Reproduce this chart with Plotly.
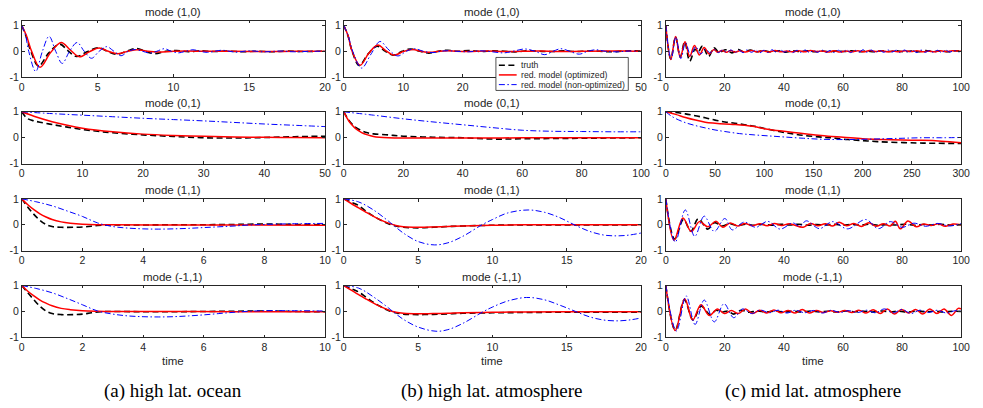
import plotly.graph_objects as go

# ---------------------------------------------------------------------------
# Autocorrelation of the leading modes: truth vs. reduced models
# Each series is a list of (time, value) samples.
# ---------------------------------------------------------------------------

# (a) high lat. ocean
A1_TRUTH = [(0, 1), (0.3, 0.55), (0.6, 0.0), (1.1, -0.57), (1.8, -0.05), (2.5, 0.28), (3.05, 0.02), (3.6, -0.2),
            (4.3, -0.02), (5.05, 0.14), (5.65, 0.0), (6.25, -0.12), (6.9, 0.0), (7.55, 0.11), (8.15, 0.0),
            (8.75, -0.09), (9.5, 0.0), (10.2, 0.03), (11.0, -0.02), (11.8, 0.02), (12.6, -0.01), (13.5, 0.01),
            (14.5, -0.02), (15.5, 0.0), (16.5, -0.02), (17.5, 0.01), (18.5, -0.01), (19.5, 0.0), (20, 0.0)]
A1_OPT = [(0, 1), (0.3, 0.62), (0.65, 0.0), (1.2, -0.62), (1.9, -0.05), (2.6, 0.34), (3.2, 0.05), (3.8, -0.21),
          (4.45, -0.02), (5.1, 0.13), (5.7, 0.0), (6.35, -0.09), (7.0, 0.0), (7.6, 0.06), (8.3, 0.0), (9.0, -0.03),
          (10, 0.0), (11, 0.01), (12, 0.0), (14, 0.0), (16, -0.01), (18, 0.0), (20, 0.0)]
A1_NON = [(0, 1), (0.25, 0.62), (0.46, 0.0), (0.92, -0.78), (1.36, 0.0), (1.8, 0.58), (2.24, 0.0), (2.67, -0.47),
          (3.15, 0.0), (3.65, 0.34), (4.12, 0.0), (4.6, -0.27), (5.1, 0.0), (5.6, 0.18), (6.08, 0.0), (6.55, -0.17),
          (7.02, 0.0), (7.5, 0.07), (7.98, 0.0), (8.45, -0.07), (8.9, 0.0), (9.4, 0.1), (9.87, 0.0), (10.35, -0.06),
          (10.8, 0.0), (11.3, 0.06), (11.75, 0.0), (12.25, -0.04), (13.2, 0.04), (14.1, -0.03), (15.0, 0.02),
          (16, -0.02), (17, 0.01), (18, -0.02), (19, 0.0), (20, 0.0)]

A2_TRUTH = [(0, 1), (0.5, 0.84), (1, 0.73), (2, 0.65), (3, 0.6), (5, 0.51), (7.5, 0.41), (10, 0.32), (12.5, 0.25),
            (15, 0.19), (20, 0.11), (25, 0.05), (30, 0.0), (35, -0.01), (40, 0.01), (45, 0.04), (50, 0.06)]
A2_OPT = [(0, 1), (2, 0.83), (5, 0.62), (7.5, 0.48), (10, 0.37), (15, 0.23), (20, 0.14), (25, 0.09), (30, 0.06),
          (35, 0.03), (40, 0.02), (45, 0.01), (50, 0.0)]
A2_NON = [(0, 1), (5, 0.93), (10, 0.87), (15, 0.81), (20, 0.75), (25, 0.7), (30, 0.65), (35, 0.59), (40, 0.53),
          (45, 0.48), (50, 0.43)]

A3_TRUTH = [(0, 1), (0.2, 0.68), (0.4, 0.4), (0.6, 0.17), (0.8, 0.01), (1.0, -0.07), (1.3, -0.1), (1.7, -0.1),
            (2.1, -0.08), (2.5, -0.03), (3.0, -0.01), (4.0, -0.01), (5.0, 0.0), (6.0, 0.0), (7.0, 0.01), (7.5, 0.02),
            (8.0, 0.03), (8.5, 0.02), (9.0, 0.01), (10, 0.0)]
A3_OPT = [(0, 1), (0.2, 0.77), (0.4, 0.58), (0.6, 0.42), (0.8, 0.3), (1.0, 0.2), (1.3, 0.11), (1.6, 0.06), (2.0, 0.02),
          (2.5, 0.0), (3, 0.0), (5, -0.01), (7, -0.01), (10, -0.02)]
A3_NON = [(0, 1), (0.5, 0.88), (1, 0.73), (1.5, 0.53), (2, 0.32), (2.5, 0.07), (3, -0.07), (3.5, -0.13), (4, -0.16),
          (4.5, -0.17), (5, -0.16), (5.5, -0.14), (6, -0.11), (6.5, -0.08), (7, -0.05), (7.5, -0.01), (8, 0.01),
          (9, 0.04), (10, 0.05)]

A4_TRUTH = [(0, 1), (0.2, 0.72), (0.4, 0.45), (0.6, 0.2), (0.8, 0.02), (1.0, -0.08), (1.3, -0.12), (1.7, -0.12),
            (2.0, -0.1), (2.3, -0.05), (2.6, -0.01), (3.0, 0.0), (4.0, -0.01), (5.0, -0.01), (6.0, 0.0), (7.0, 0.01),
            (8.0, 0.02), (9.0, 0.0), (10, -0.01)]
A4_OPT = [(0, 1), (0.2, 0.78), (0.4, 0.6), (0.6, 0.44), (0.8, 0.32), (1.0, 0.22), (1.3, 0.12), (1.6, 0.07), (2.0, 0.03),
          (2.5, 0.01), (3, 0.0), (5, 0.0), (7, -0.01), (10, -0.01)]
A4_NON = [(0, 1), (0.5, 0.88), (1, 0.72), (1.5, 0.5), (2, 0.26), (2.5, 0.02), (3, -0.1), (3.5, -0.17), (4, -0.2),
          (4.5, -0.21), (5, -0.2), (5.5, -0.17), (6, -0.13), (6.5, -0.08), (7, -0.03), (7.5, 0.01), (8, 0.03),
          (9, 0.03), (10, 0.02)]

# (b) high lat. atmosphere
B1_TRUTH = [(0, 1), (0.7, 0.6), (1.4, 0.0), (2.6, -0.55), (4.1, -0.1), (5.6, 0.2), (7.0, 0.0), (8.3, -0.15),
            (9.8, 0.0), (11.2, 0.09), (12.8, 0.0), (14.3, -0.07), (15.9, 0.0), (17.5, 0.04), (19, 0.0), (21, 0.03),
            (23, -0.01), (25, 0.02), (27, 0.0), (29, -0.02), (31, 0.02), (33, 0.0), (35, -0.01), (37, 0.02),
            (39, -0.01), (41, 0.01), (43, 0.0), (45, -0.02), (47, 0.01), (49, 0.02), (50, 0.01)]
B1_OPT = [(0, 1), (0.7, 0.62), (1.4, 0.0), (2.75, -0.54), (4.2, -0.08), (5.7, 0.24), (7.1, 0.02), (8.5, -0.15),
          (10.0, -0.01), (11.6, 0.07), (13.0, 0.0), (14.5, -0.04), (16, 0.0), (17.5, 0.02), (19, 0.0), (21, -0.01),
          (24, 0.01), (27, -0.01), (30, 0.0), (33, 0.01), (36, -0.01), (40, 0.0), (44, 0.01), (47, 0.01), (50, 0.0)]
B1_NON = [(0, 1), (0.75, 0.6), (1.5, 0.0), (3.0, -0.65), (4.6, -0.1), (6.1, 0.38), (7.6, 0.05), (9.1, -0.18),
          (10.5, 0.0), (11.9, 0.1), (13.4, 0.0), (15, -0.05), (17, 0.02), (19, 0.0), (21, -0.02), (23, 0.02),
          (25, -0.02), (27, -0.06), (28.8, 0.02), (30.5, 0.09), (32.2, 0.0), (33.8, -0.13), (35.2, 0.0), (36.5, 0.1),
          (38, 0.0), (39.6, -0.11), (41, 0.0), (42.4, 0.06), (44, 0.0), (46, -0.02), (48, 0.01), (50, -0.01)]

B2_TRUTH = [(0, 1), (1, 0.8), (2, 0.63), (3, 0.5), (4, 0.4), (6, 0.27), (8, 0.19), (10, 0.15), (15, 0.11), (20, 0.06),
            (30, 0.02), (40, 0.0), (50, -0.05), (60, -0.04), (70, -0.03), (80, -0.02), (90, -0.01), (100, 0.0)]
B2_OPT = [(0, 1), (1, 0.78), (2, 0.6), (3, 0.46), (4, 0.35), (6, 0.2), (8, 0.11), (10, 0.05), (12, 0.02), (15, 0.0),
          (20, -0.01), (30, -0.01), (40, -0.01), (50, -0.01), (60, 0.0), (80, 0.0), (100, 0.0)]
B2_NON = [(0, 1), (10, 0.87), (20, 0.73), (30, 0.61), (40, 0.5), (50, 0.39), (60, 0.29), (70, 0.25), (80, 0.24),
          (90, 0.23), (100, 0.23)]

B3_TRUTH = [(0, 1), (0.5, 0.87), (1, 0.74), (1.5, 0.52), (2, 0.33), (2.5, 0.17), (3, 0.04), (3.5, -0.05), (4, -0.1),
            (5, -0.12), (6, -0.1), (7, -0.07), (8, -0.05), (10, -0.02), (12, -0.01), (14, -0.01), (16, -0.01),
            (18, -0.01), (20, -0.01)]
B3_OPT = [(0, 1), (0.5, 0.82), (1, 0.65), (1.5, 0.48), (2, 0.32), (2.5, 0.18), (3, 0.06), (3.5, -0.03), (4, -0.08),
          (5, -0.1), (6, -0.09), (7, -0.07), (8, -0.05), (10, -0.02), (12, 0.0), (15, 0.0), (20, 0.0)]
B3_NON = [(0, 1), (1, 0.88), (2, 0.57), (3, 0.14), (3.3, 0.0), (4, -0.32), (5, -0.65), (6.1, -0.78), (7, -0.7),
          (8, -0.45), (9.3, 0.0), (10, 0.2), (11, 0.45), (12.4, 0.57), (13.5, 0.48), (14.5, 0.28), (15.5, 0.0),
          (16.5, -0.25), (17.5, -0.4), (18.4, -0.43), (19.2, -0.4), (20, -0.32)]

B4_TRUTH = [(0, 1), (0.5, 0.88), (1, 0.75), (1.5, 0.55), (2, 0.35), (2.5, 0.18), (3, 0.04), (3.5, -0.05), (4, -0.1),
            (5, -0.12), (6, -0.11), (7, -0.09), (8, -0.07), (10, -0.05), (12, -0.04), (14, -0.03), (16, -0.03),
            (18, -0.03), (20, -0.03)]
B4_OPT = [(0, 1), (0.5, 0.82), (1, 0.65), (1.5, 0.48), (2, 0.32), (2.5, 0.18), (3, 0.06), (3.5, -0.03), (4, -0.07),
          (5, -0.09), (6, -0.08), (7, -0.07), (8, -0.05), (10, -0.03), (12, -0.02), (15, -0.01), (20, -0.01)]
B4_NON = [(0, 1), (1, 0.9), (2, 0.56), (3, 0.14), (3.3, 0.0), (4, -0.3), (5, -0.6), (6.2, -0.76), (7, -0.7),
          (8, -0.46), (9.4, 0.0), (10, 0.17), (11, 0.4), (12.3, 0.54), (13.5, 0.45), (14.5, 0.25), (15.6, 0.0),
          (16.5, -0.2), (17.5, -0.33), (18.5, -0.36), (19.3, -0.32), (20, -0.25)]

# (c) mid lat. atmosphere
C1_TRUTH = [(0, 1), (1.7, -0.3), (3.3, 0.55), (4.9, -0.22), (6.4, 0.37), (8.1, -0.38), (9.9, 0.08), (10.9, -0.04),
            (12.4, 0.2), (14.5, -0.2), (16.3, 0.14), (18, -0.04), (20.3, 0.06), (22.4, -0.06), (24.6, 0.07),
            (26.6, -0.04), (28.6, 0.05), (30.6, -0.02), (33, 0.03), (35.5, -0.02), (38, 0.02), (40.5, -0.03),
            (43, 0.02), (45.5, -0.01), (48, 0.02), (50.5, -0.02), (53, 0.01), (55.5, -0.02), (58, 0.02),
            (60.5, -0.01), (63, 0.02), (65.5, -0.02), (68, 0.01), (70.5, -0.02), (73, 0.02), (75.5, -0.01),
            (78, 0.02), (80.5, -0.02), (83, 0.01), (85.5, -0.02), (88, 0.03), (90.5, -0.01), (93, 0.02),
            (95.5, -0.02), (98, 0.02), (100, 0.0)]
C1_OPT = [(0, 1), (1.7, -0.32), (3.3, 0.57), (4.9, -0.24), (6.5, 0.37), (8.1, -0.2), (9.7, 0.22), (11.4, -0.14),
          (13, 0.15), (14.7, -0.1), (16.3, 0.07), (17.5, -0.04), (19, 0.03), (20.5, -0.04), (22, 0.03), (23.5, -0.03),
          (25, 0.02), (27, -0.03), (29, 0.03), (31, -0.02), (33, 0.02), (35, -0.03), (37, 0.03), (39, -0.02),
          (41, 0.01), (43, -0.02), (45, 0.02), (47, -0.02), (49, 0.03), (51, -0.01), (53, 0.01), (55, -0.03),
          (57, 0.02), (59, -0.03), (61, 0.01), (63, -0.02), (65, 0.02), (67, -0.02), (69, 0.03), (71, -0.01),
          (73, 0.02), (75, -0.02), (77, 0.01), (79, -0.02), (81, 0.02), (83, -0.01), (85, 0.02), (87, -0.02),
          (89, 0.01), (91, -0.02), (93, 0.02), (95, -0.01), (97, 0.02), (100, 0.0)]
C1_NON = [(0, 1), (1.8, -0.3), (3.4, 0.55), (5.1, -0.28), (6.7, 0.33), (8.4, -0.15), (10.1, 0.18), (11.8, -0.1),
          (13.5, 0.08), (15, -0.06), (16.4, 0.06), (17.8, -0.05), (19.2, 0.05), (20.6, -0.04), (22, 0.05),
          (23.4, -0.05), (24.8, 0.04), (26.2, -0.05), (27.6, 0.06), (29, -0.04), (30.4, 0.05), (31.8, -0.06),
          (33.2, 0.04), (34.6, -0.05), (36, 0.06), (37.4, -0.04), (38.8, 0.05), (40.2, -0.03), (41.6, 0.04),
          (43, -0.05), (44.4, 0.04), (45.8, -0.04), (47.2, 0.05), (48.6, -0.05), (50, 0.03), (51.4, -0.04),
          (52.8, 0.05), (54.2, -0.04), (55.6, 0.03), (57, -0.05), (58.4, 0.04), (59.8, -0.04), (61.2, 0.05),
          (62.6, -0.05), (64, 0.04), (65.4, -0.03), (66.8, 0.06), (68.2, -0.04), (69.6, 0.05), (71, -0.05),
          (72.4, 0.04), (73.8, -0.04), (75.2, 0.05), (76.6, -0.03), (78, 0.04), (79.4, -0.05), (80.8, 0.05),
          (82.2, -0.04), (83.6, 0.04), (85, -0.05), (86.4, 0.05), (87.8, -0.04), (89.2, 0.03), (90.6, -0.04),
          (92, 0.04), (93.4, -0.05), (94.8, 0.04), (96.2, -0.03), (97.6, 0.03), (99, -0.02), (100, 0.0)]

C2_TRUTH = [(0, 1), (10, 0.97), (20, 0.92), (30, 0.85), (40, 0.77), (50, 0.68), (60, 0.61), (70, 0.56), (80, 0.5),
            (90, 0.44), (100, 0.36), (115, 0.24), (130, 0.14), (145, 0.07), (160, 0.02), (170, -0.01), (185, -0.07),
            (200, -0.11), (215, -0.15), (235, -0.18), (255, -0.2), (270, -0.21), (300, -0.22)]
C2_OPT = [(0, 1), (10, 0.9), (20, 0.78), (30, 0.68), (40, 0.6), (50, 0.56), (60, 0.53), (70, 0.51), (80, 0.48),
          (90, 0.43), (100, 0.35), (110, 0.29), (120, 0.25), (135, 0.18), (150, 0.12), (165, 0.06), (180, 0.02),
          (200, -0.04), (220, -0.07), (240, -0.09), (260, -0.1), (280, -0.13), (300, -0.19)]
C2_NON = [(0, 1), (5, 0.85), (10, 0.74), (20, 0.58), (30, 0.47), (40, 0.38), (50, 0.3), (60, 0.24), (75, 0.16),
          (90, 0.11), (105, 0.07), (120, 0.03), (140, -0.02), (160, -0.06), (180, -0.07), (200, -0.06), (220, -0.04),
          (240, -0.02), (260, 0.0), (280, 0.0), (300, 0.01)]

C3_TRUTH = [(0, 1), (3.0, -0.55), (6.0, 0.2), (8.5, -0.25), (11, 0.23), (14.2, -0.17), (16.5, 0.08), (19, -0.05),
            (21.5, 0.04), (24, -0.03), (27, 0.02), (30, -0.02), (33, 0.02), (36, -0.02), (39, 0.02), (42, -0.01),
            (45, 0.02), (48, -0.02), (51, 0.01), (54, -0.01), (57, 0.02), (60, -0.02), (63, 0.01), (66, -0.01),
            (69, 0.02), (72, -0.02), (75, 0.01), (78, -0.01), (81, 0.02), (84, -0.02), (87, 0.01), (90, -0.01),
            (93, 0.02), (96, -0.01), (100, 0.0)]
C3_OPT = [(0, 1), (2.8, -0.6), (5.8, 0.26), (8.6, -0.26), (11.4, 0.12), (14.2, -0.08), (17, 0.13), (19.3, -0.1),
          (21.8, 0.07), (24.3, -0.05), (26.8, 0.05), (29.3, -0.04), (31.8, 0.04), (34.3, -0.04), (36.8, 0.05),
          (39.3, -0.03), (41.8, 0.04), (46.5, -0.1), (49, 0.05), (51.5, -0.04), (54, 0.04), (56.5, -0.05),
          (58.7, 0.1), (61.2, -0.04), (63.7, 0.05), (66.2, -0.07), (68.7, 0.08), (71.2, -0.06), (73.7, 0.04),
          (76.0, -0.05), (77.7, 0.13), (79.4, -0.16), (82.0, 0.14), (84.8, -0.08), (87.3, 0.03), (89.8, -0.03),
          (92.3, 0.04), (94.6, -0.06), (97.2, 0.03), (100, 0.0)]
C3_NON = [(0, 1), (3.2, -0.67), (6.6, 0.57), (9.8, -0.45), (13, 0.33), (16.4, -0.26), (20, 0.24), (22.5, -0.2),
          (26.5, 0.1), (30.5, -0.1), (34.5, 0.13), (38.7, -0.17), (43, 0.07), (45.3, -0.06), (47.6, 0.15),
          (52, -0.15), (56.5, 0.12), (61.5, -0.16), (67.7, 0.2), (72, -0.15), (76, 0.12), (80, -0.1), (84, 0.06),
          (88, -0.06), (92, 0.05), (96, -0.05), (100, 0.05)]

C4_TRUTH = [(0, 1), (3.2, -0.72), (6.3, 0.45), (9.2, -0.32), (12, 0.2), (15, -0.12), (17, 0.05), (19, -0.03),
            (21, 0.02), (23, -0.1), (25.5, 0.05), (28, -0.03), (31, 0.02), (34, -0.02), (37, 0.02), (40, -0.02),
            (43, 0.01), (46, -0.02), (49, 0.02), (52, -0.01), (55, 0.01), (58, -0.02), (61, 0.02), (64, -0.01),
            (67, 0.01), (70, -0.02), (73, 0.02), (76, -0.01), (79, 0.01), (82, -0.02), (85, 0.02), (88, -0.01),
            (91, 0.01), (94, -0.02), (97, 0.01), (100, 0.0)]
C4_OPT = [(0, 1), (3.2, -0.73), (6.4, 0.49), (9.1, -0.33), (11.9, 0.26), (14.7, -0.15), (17.5, 0.1), (19.8, -0.08),
          (22.2, 0.04), (24.6, -0.08), (27, 0.1), (29.4, -0.08), (31.8, 0.05), (34.2, -0.06), (36.6, 0.06),
          (39, -0.05), (41.4, 0.04), (43.8, -0.06), (46.2, 0.08), (48.6, -0.06), (51, 0.04), (53.4, -0.04),
          (55.8, 0.03), (58.2, -0.03), (60.6, 0.04), (63, -0.04), (65.4, 0.05), (67.8, -0.06), (70.2, 0.07),
          (72.6, -0.08), (75, 0.1), (77.4, -0.1), (79.8, 0.08), (82.2, -0.06), (84.6, 0.08), (87, -0.1), (89.4, 0.1),
          (91.8, -0.08), (94.2, 0.1), (96.7, -0.15), (99, 0.12), (100, 0.1)]
C4_NON = [(0, 1), (3.6, -0.75), (6.9, 0.6), (9.9, -0.5), (13, 0.44), (16.4, -0.4), (19.7, 0.3), (23, -0.24),
          (26, 0.1), (29, -0.08), (32, 0.06), (35, -0.05), (38, 0.05), (41, -0.06), (44, 0.05), (47, -0.05),
          (50, 0.04), (53, -0.06), (56, 0.05), (59, -0.04), (62, 0.03), (65, -0.04), (68, 0.05), (71, -0.05),
          (74, 0.1), (77, -0.05), (80, 0.08), (83, -0.08), (86, 0.05), (89, -0.04), (92, 0.05), (95, -0.06),
          (98, 0.03), (100, 0.0)]

MODE_TITLES = ["mode (1,0)", "mode (0,1)", "mode (1,1)", "mode (-1,1)"]
CAPTIONS = ["(a) high lat. ocean", "(b) high lat. atmosphere", "(c) mid lat. atmosphere"]
SERIES_NAMES = ["truth", "red. model (optimized)", "red. model (non-optimized)"]

X_TICKS = [
    [[0, 5, 10, 15, 20], [0, 10, 20, 30, 40, 50], [0, 2, 4, 6, 8, 10], [0, 2, 4, 6, 8, 10]],
    [[0, 10, 20, 30, 40, 50], [0, 20, 40, 60, 80, 100], [0, 5, 10, 15, 20], [0, 5, 10, 15, 20]],
    [[0, 20, 40, 60, 80, 100], [0, 50, 100, 150, 200, 250, 300], [0, 20, 40, 60, 80, 100], [0, 20, 40, 60, 80, 100]],
]
Y_TICKS = [-1, 0, 1]
# upper y limit of each panel row (the first row leaves headroom above 1)
Y_TOP = [1.19, 1, 1, 1]

PANELS = [
    [(A1_TRUTH, A1_OPT, A1_NON), (A2_TRUTH, A2_OPT, A2_NON), (A3_TRUTH, A3_OPT, A3_NON), (A4_TRUTH, A4_OPT, A4_NON)],
    [(B1_TRUTH, B1_OPT, B1_NON), (B2_TRUTH, B2_OPT, B2_NON), (B3_TRUTH, B3_OPT, B3_NON), (B4_TRUTH, B4_OPT, B4_NON)],
    [(C1_TRUTH, C1_OPT, C1_NON), (C2_TRUTH, C2_OPT, C2_NON), (C3_TRUTH, C3_OPT, C3_NON), (C4_TRUTH, C4_OPT, C4_NON)],
]

# ---------------------------------------------------------------------------
# Layout (pixels of a 983 x 408 page)
# ---------------------------------------------------------------------------
W, H = 983, 408
COL_PX = [(19, 326), (345, 646), (671, 970)]
ROW_PX = [(15, 73.3), (109, 162.5), (198.7, 252), (288, 341.5)]
TITLE_GAP = 9.0

AXIS_COLOR = "#262626"
SANS = "Liberation Sans, Arial, Helvetica, sans-serif"
SERIF = "Liberation Serif, Times New Roman, serif"

STYLES = [
    dict(color="#000000", width=1.6, dash="6px,3.5px"),
    dict(color="#ff0000", width=1.5, dash="solid"),
    dict(color="#0000ff", width=1.0, dash="6px,2.5px,1.5px,2.5px"),
]

# Legend box inside the upper panel of column (b)
LEG_BOX = (499, 53, 633, 87)
LEG_ROWS = [61, 71, 81]
LEG_KEY = (502, 520)
LEG_TEXT_X = 522.5


def px_x(v):
    return v / W


def px_y(v):
    return 1 - v / H


def hidden_by_legend(c, r, tick):
    """Tick labels of panel (b) row 1 that sit behind the legend box."""
    if c != 1 or r != 0:
        return False
    x0, x1 = COL_PX[c]
    xpx = x0 + (x1 - x0) * tick / X_TICKS[c][r][-1]
    return LEG_BOX[0] - 8 < xpx < LEG_BOX[2] + 8 and xpx < x1 - 10


fig = go.Figure()
layout = dict(
    width=W, height=H,
    margin=dict(l=0, r=0, t=0, b=0),
    paper_bgcolor="white", plot_bgcolor="white",
    showlegend=False,
    font=dict(family=SANS, size=10.5, color=AXIS_COLOR),
)
annotations = []
shapes = []

for c in range(3):
    x0, x1 = COL_PX[c]
    for r in range(4):
        y0, y1 = ROW_PX[r]
        n = c * 4 + r + 1
        xa = "x" if n == 1 else f"x{n}"
        ya = "y" if n == 1 else f"y{n}"
        xkey = "xaxis" if n == 1 else f"xaxis{n}"
        ykey = "yaxis" if n == 1 else f"yaxis{n}"
        ticks = X_TICKS[c][r]

        for series, style in zip(PANELS[c][r], STYLES):
            fig.add_trace(go.Scatter(
                x=[p[0] for p in series], y=[p[1] for p in series],
                mode="lines", line=dict(shape="spline", smoothing=1.0, **style),
                xaxis=xa, yaxis=ya, hoverinfo="skip",
            ))

        common = dict(
            ticks="inside", ticklen=3, tickwidth=0.8, tickcolor=AXIS_COLOR,
            showline=True, linecolor=AXIS_COLOR, linewidth=0.8, mirror="ticks",
            showgrid=False, zeroline=False, fixedrange=True,
            tickfont=dict(family=SANS, size=10.5, color=AXIS_COLOR),
        )
        layout[xkey] = dict(
            domain=[px_x(x0), px_x(x1)], anchor=ya, range=[0, ticks[-1]],
            tickmode="array", tickvals=ticks,
            ticktext=["" if hidden_by_legend(c, r, t) else str(t) for t in ticks], **common,
        )
        layout[ykey] = dict(
            domain=[px_y(y1), px_y(y0)], anchor=xa, range=[-1, Y_TOP[r]],
            tickmode="array", tickvals=Y_TICKS, ticktext=[str(t) for t in Y_TICKS], **common,
        )

        annotations.append(dict(
            text=MODE_TITLES[r], xref="paper", yref="paper",
            x=px_x((x0 + x1) / 2), y=px_y(y0 - TITLE_GAP), xanchor="center", yanchor="middle",
            showarrow=False, font=dict(family=SANS, size=11.5, color=AXIS_COLOR),
        ))

    annotations.append(dict(
        text="time", xref="paper", yref="paper",
        x=px_x((x0 + x1) / 2), y=px_y(366), xanchor="center", yanchor="middle",
        showarrow=False, font=dict(family=SANS, size=11.5, color=AXIS_COLOR),
    ))
    annotations.append(dict(
        text=CAPTIONS[c], xref="paper", yref="paper",
        x=px_x((x0 + x1) / 2), y=px_y(397), xanchor="center", yanchor="middle",
        showarrow=False, font=dict(family=SERIF, size=19, color="#000000"),
    ))

shapes.append(dict(
    type="rect", xref="paper", yref="paper", layer="above",
    x0=px_x(LEG_BOX[0]), x1=px_x(LEG_BOX[2]), y0=px_y(LEG_BOX[3]), y1=px_y(LEG_BOX[1]),
    line=dict(color=AXIS_COLOR, width=0.8), fillcolor="white",
))
for yrow, name, style in zip(LEG_ROWS, SERIES_NAMES, STYLES):
    shapes.append(dict(
        type="line", xref="paper", yref="paper", layer="above",
        x0=px_x(LEG_KEY[0]), x1=px_x(LEG_KEY[1]), y0=px_y(yrow), y1=px_y(yrow),
        line=dict(color=style["color"], width=style["width"], dash=style["dash"]),
    ))
    annotations.append(dict(
        text=name, xref="paper", yref="paper",
        x=px_x(LEG_TEXT_X), y=px_y(yrow), xanchor="left", yanchor="middle",
        showarrow=False, font=dict(family=SANS, size=8.7, color=AXIS_COLOR),
    ))

layout["annotations"] = annotations
layout["shapes"] = shapes
fig.update_layout(**layout)

fig.write_html("out.html")
